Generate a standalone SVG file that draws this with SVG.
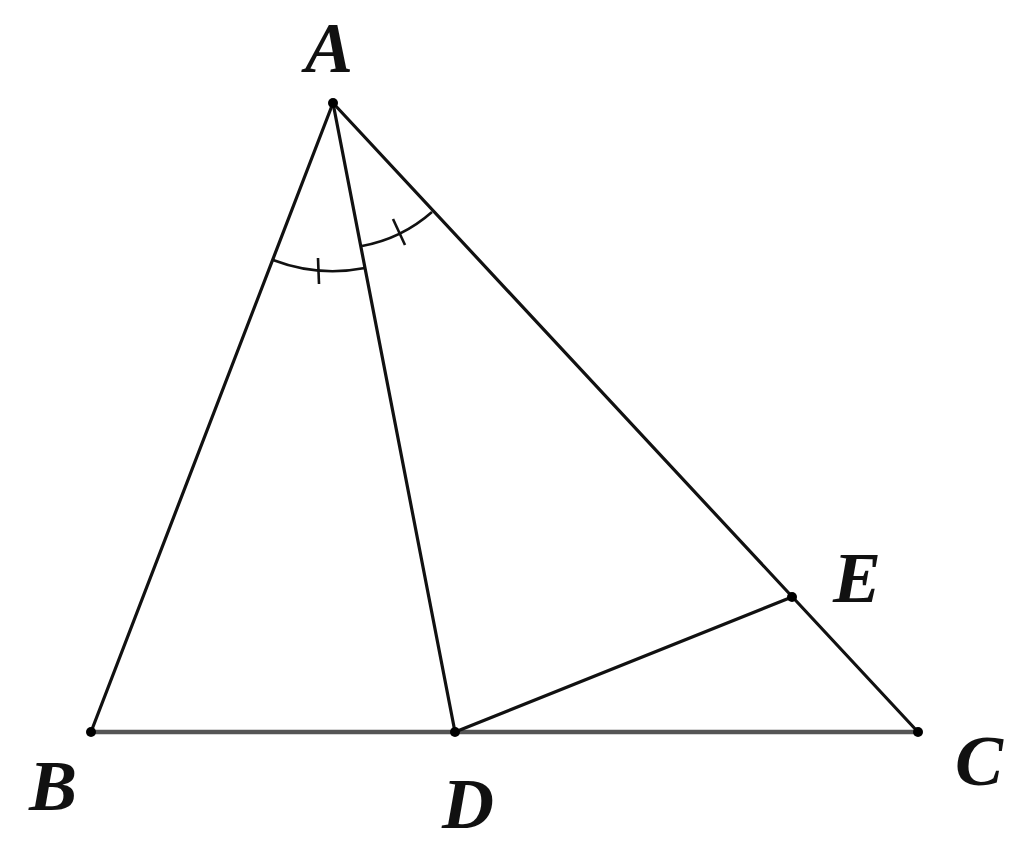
<svg xmlns="http://www.w3.org/2000/svg" width="1024" height="854" viewBox="0 0 1024 854">
<style>
.ln{stroke:#111;stroke-width:3.2;fill:none;stroke-linecap:round}
.base{stroke:#555;stroke-width:4.5;fill:none}
.arc{stroke:#111;stroke-width:2.6;fill:none}
.pt{fill:#000}
.lbl{font-family:"Liberation Serif","DejaVu Serif",serif;font-style:italic;font-weight:bold;font-size:72px;fill:#111;text-anchor:middle}
</style>
<rect width="1024" height="854" fill="#fff"/>
<g id="connectors">
<line class="base" x1="91" y1="732" x2="918" y2="732"/>
<line class="ln" x1="333" y1="103" x2="91" y2="732"/>
<line class="ln" x1="333" y1="103" x2="455" y2="732"/>
<line class="ln" x1="333" y1="103" x2="918" y2="732"/>
<line class="ln" x1="455" y1="732" x2="792" y2="597"/>
<path class="arc" d="M273,260 A168,168 0 0 0 365,268"/>
<line class="arc" x1="318" y1="258" x2="319" y2="284"/>
<path class="arc" d="M362,246 A146,146 0 0 0 432,212"/>
<line class="arc" x1="393" y1="219" x2="405" y2="245"/>
</g>
<g id="A"><circle class="pt" cx="333" cy="103" r="5"/><text class="lbl" x="329" y="72">A</text></g>
<g id="B"><circle class="pt" cx="91" cy="732" r="5"/><text class="lbl" x="53" y="810">B</text></g>
<g id="D"><circle class="pt" cx="455" cy="732" r="5"/><text class="lbl" x="468" y="828">D</text></g>
<g id="C"><circle class="pt" cx="918" cy="732" r="5"/><text class="lbl" x="979" y="785">C</text></g>
<g id="E"><circle class="pt" cx="792" cy="597" r="5"/><text class="lbl" x="857" y="602">E</text></g>
</svg>
